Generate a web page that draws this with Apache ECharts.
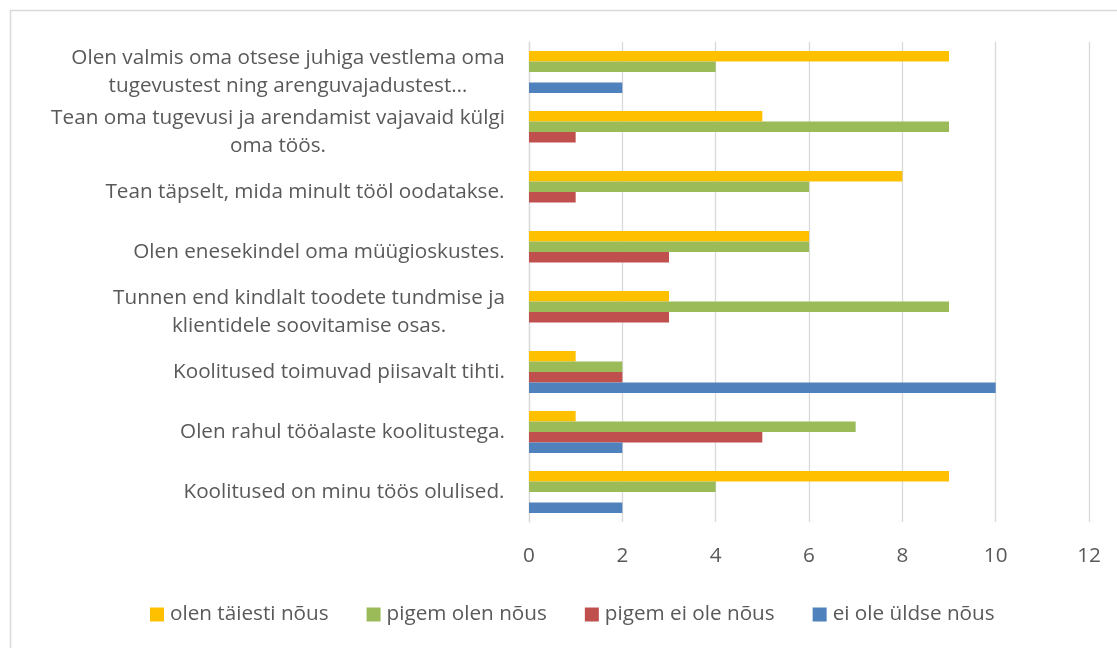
<!DOCTYPE html>
<html>
<head>
<meta charset="utf-8">
<script src="https://cdn.jsdelivr.net/npm/echarts@6/dist/echarts.min.js"></script>
<style>html,body{margin:0;padding:0;background:#fff;}#c{width:1117px;height:648px;}</style>
</head>
<body>
<div id="c"></div>
<script>
// Categories bottom to top
var categories = [
  "Koolitused on minu töös olulised.",
  "Olen rahul tööalaste koolitustega.",
  "Koolitused toimuvad piisavalt tihti.",
  "Tunnen end kindlalt toodete tundmise ja\nklientidele soovitamise osas.",
  "Olen enesekindel oma müügioskustes.",
  "Tean täpselt, mida minult tööl oodatakse.",
  "Tean oma tugevusi ja arendamist vajavaid külgi\noma töös.",
  "Olen valmis oma otsese juhiga vestlema oma\ntugevustest ning arenguvajadustest…"
];
var seriesNames = ["olen täiesti nõus", "pigem olen nõus", "pigem ei ole nõus", "ei ole üldse nõus"];
var taiestiNous   = [9, 1, 1, 3, 6, 8, 5, 9];
var pigemNous     = [4, 7, 2, 9, 6, 6, 9, 4];
var pigemEiNous   = [0, 5, 2, 3, 3, 1, 1, 0];
var uldseEiNous   = [2, 2, 10, 0, 0, 0, 0, 2];
var xTicks = [0, 2, 4, 6, 8, 10, 12];

var FONT = '"Open Sans"';
var FS = 20.7;
var TXT = '#595959';
var colors = ['#FFC000', '#9BBB59', '#C0504D', '#4F81BD'];

var ctx = document.createElement('canvas').getContext('2d');
ctx.font = FS + 'px ' + FONT;
var rich = {};
categories.forEach(function (c, i) {
  var w = 0;
  c.split('\n').forEach(function (l) { w = Math.max(w, ctx.measureText(l).width); });
  rich['w' + i] = { width: Math.ceil(w), align: 'center', fontSize: FS, fontFamily: FONT, color: TXT, lineHeight: 28 };
});

var chart = echarts.init(document.getElementById('c'), null, { renderer: 'canvas' });
var data4 = [taiestiNous, pigemNous, pigemEiNous, uldseEiNous];
var series = data4.map(function (d, i) {
  return {
    name: seriesNames[i], type: 'bar', data: d,
    barGap: '0%', barCategoryGap: '30%',
    itemStyle: { color: colors[i] }
  };
});

chart.setOption({
  animation: false,
  backgroundColor: '#fff',
  textStyle: { fontFamily: FONT },
  graphic: [{
    type: 'rect', left: 8, top: 8, shape: { width: 1200, height: 700 },
    style: { fill: 'none', stroke: '#d9d9d9', lineWidth: 1.5 }, silent: true, z: -1
  }],
  grid: { left: 529, right: 28, top: 42, bottom: 126, containLabel: false },
  legend: {
    data: seriesNames,
    top: 599, left: 145,
    itemWidth: 14, itemHeight: 14, itemGap: 38,
    icon: 'rect',
    textStyle: { fontSize: FS, color: TXT, fontFamily: FONT, padding: [0, 0, 0, 1] }
  },
  xAxis: {
    type: 'value', min: 0, max: 12, interval: 2,
    axisLine: { show: false }, axisTick: { show: false },
    splitLine: { lineStyle: { color: '#d9d9d9', width: 1.3 } },
    axisLabel: { fontSize: FS, color: TXT, fontFamily: FONT, margin: 24,
      formatter: function (v) { return xTicks.indexOf(v) >= 0 ? String(v) : ''; } }
  },
  yAxis: {
    type: 'category', data: categories,
    axisLine: { show: true, lineStyle: { color: '#d9d9d9', width: 1.3 } },
    axisTick: { show: false },
    axisLabel: {
      margin: 24, fontSize: FS, color: TXT, fontFamily: FONT,
      formatter: function (v, i) {
        return v.split('\n').map(function (l) { return '{w' + i + '|' + l + '}'; }).join('\n');
      },
      rich: rich
    }
  },
  series: series
});
</script>
</body>
</html>
